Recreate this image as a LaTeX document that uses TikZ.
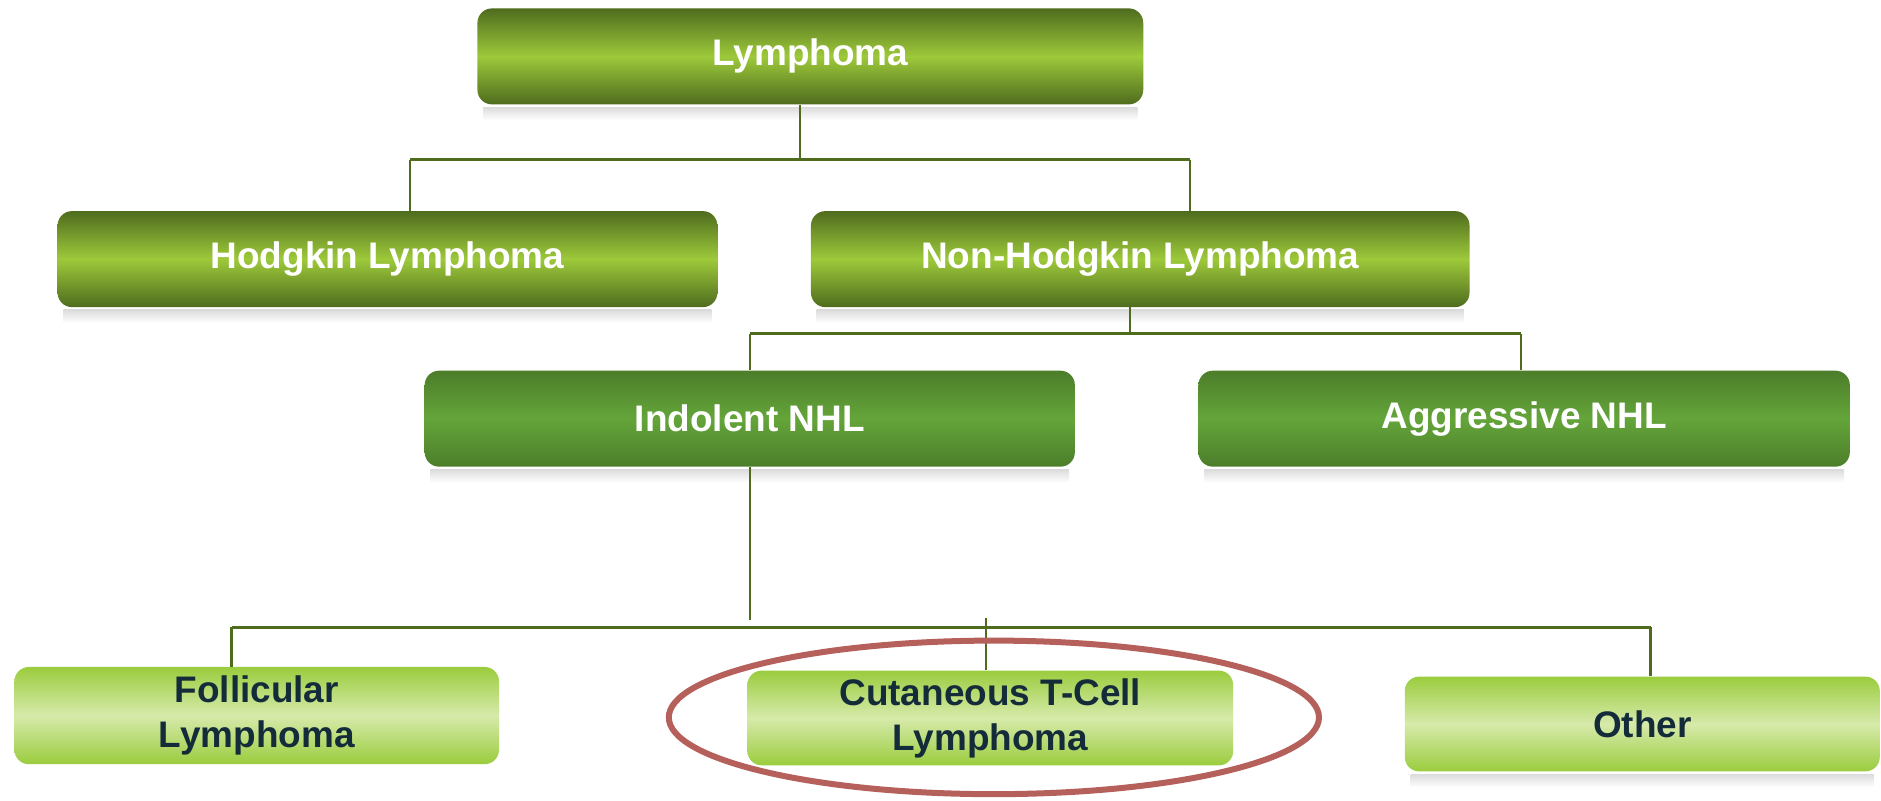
\documentclass[tikz,border=0pt]{standalone}
\usepackage{fontspec}
\setmainfont{Liberation Sans}
\usetikzlibrary{calc}
\definecolor{dkolive}{HTML}{4F6C1E}
\definecolor{brolive}{HTML}{9DC93A}
\definecolor{dkgreen}{HTML}{4C7D2A}
\definecolor{mdgreen}{HTML}{64A53A}
\definecolor{lfedge}{HTML}{9BCC3E}
\definecolor{lfmid}{HTML}{D6EAAA}
\definecolor{navy}{HTML}{142C3A}
\definecolor{connc}{HTML}{4F6B1E}
\definecolor{ringc}{HTML}{B5605A}
\tikzset{
  boxbase/.style={rectangle, rounded corners=12pt, inner sep=0pt, align=center,
    font=\fontsize{30.8}{37.5}\selectfont\bfseries},
  topbox/.style={boxbase, top color=dkolive, bottom color=dkolive, middle color=brolive, text=white},
  midbox/.style={boxbase, top color=dkgreen, bottom color=dkgreen, middle color=mdgreen, text=white},
  leafbox/.style={boxbase, top color=lfedge, bottom color=lfedge, middle color=lfmid, text=navy},
  conn/.style={draw=connc, line width=2pt},
  ring/.style={draw=ringc, line width=5pt},
  halo/.style={top color=black!14, bottom color=white, draw=none}
}
\newcommand{\halofor}[1]{%
  \shade[halo] ([xshift=5pt,yshift=-2pt]#1.south west) rectangle ([xshift=-5pt,yshift=-13pt]#1.south east);}
\begin{document}
\begin{tikzpicture}[x=1pt,y=-1pt]
\fill[white] (0,0) rectangle (1568,667);
\useasboundingbox (0,0) rectangle (1568,667);

% nodes
\node[topbox, minimum width=555pt, minimum height=80pt] (L) at (675.5,47) {Lymphoma};
\node[topbox, minimum width=550pt, minimum height=80pt] (HL) at (323,216) {Hodgkin Lymphoma};
\node[topbox, minimum width=549pt, minimum height=80pt] (NHL) at (950.5,216) {Non-Hodgkin Lymphoma};
\node[midbox, minimum width=542pt, minimum height=80pt] (IN) at (625,349) {Indolent NHL};
\node[midbox, minimum width=543pt, minimum height=80pt] (AG) at (1270.5,349) {Aggressive NHL};
\node[leafbox, minimum width=404pt, minimum height=81pt] (FL) at (214,596.5) {Follicular\\Lymphoma};
\node[leafbox, minimum width=405pt, minimum height=79pt] (CT) at (825.5,598.5) {Cutaneous T-Cell\\Lymphoma};
\node[leafbox, minimum width=396pt, minimum height=79pt] (OT) at (1369,603.5) {Other};

% reflections
\halofor{L}\halofor{HL}\halofor{NHL}\halofor{IN}\halofor{AG}\halofor{OT}

% connectors level 1
\coordinate (j1) at (667,133);
\coordinate (j1l) at (342,133);
\coordinate (j1r) at (992,133);
\draw[conn] (L.south -| j1) -- (j1);
\draw[conn] (j1l) -- (j1r);
\draw[conn] (j1l) -- (HL.north -| j1l);
\draw[conn] (j1r) -- (NHL.north -| j1r);

% connectors level 2
\coordinate (j2) at (942,278);
\coordinate (j2l) at (625,278);
\coordinate (j2r) at (1268,278);
\draw[conn] (NHL.south -| j2) -- (j2);
\draw[conn] (j2l) -- (j2r);
\draw[conn] (j2l) -- (IN.north -| j2l);
\draw[conn] (j2r) -- (AG.north -| j2r);

% connectors level 3
\coordinate (j3) at (625,517);
\coordinate (j3l) at (193,523);
\coordinate (j3r) at (1376,523);
\coordinate (j3t) at (822,515);
\draw[conn] (IN.south -| j3) -- (j3);
\draw[conn] (j3l) -- (j3r);
\draw[conn] (j3l) -- (FL.north -| j3l);
\draw[conn] (j3r) -- (OT.north -| j3r);
\draw[conn] (j3t) -- (CT.north -| j3t);

% highlight ring
\draw[ring] (828.5,598) ellipse [x radius=271pt, y radius=64pt];
\end{tikzpicture}
\end{document}
